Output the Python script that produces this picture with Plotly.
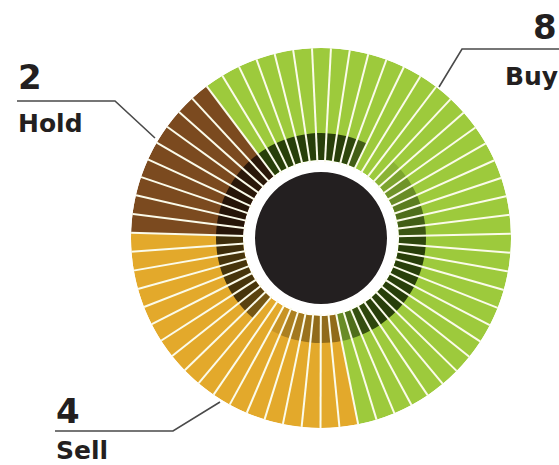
import plotly.graph_objects as go

W, H = 559, 465

# ---- data (clockwise order starting at the Buy/Hold boundary) ----
categories = ["Buy", "Sell", "Hold"]
ratings = [8, 4, 2]
wedges = [36, 18, 9]
base_colors = ["#9dca3c", "#e3a92b", "#7b4a1f"]
dark_colors = ["#1b3005", "#2c2006", "#1c0f06"]

# darkness of the inner band for each wedge (0 = none, 1 = darkest)
buy_shade = [0.9, 0.9, 0.9, 0.9, 0.9, 0.9, 0.9, 0.9, 0.9, 0.85,
             0.7, 0.0, 0.0, 0.0, 0.15, 0.25, 0.35, 0.4, 0.5, 0.6,
             0.7, 0.75, 0.85, 0.9, 0.9, 0.9, 0.9, 0.9, 0.9, 0.9,
             0.9, 0.9, 0.85, 0.8, 0.6, 0.4]
sell_shade = [0.45, 0.45, 0.45, 0.4, 0.35, 0.3, 0.15, 0.0, 0.0, 0.6,
              0.75, 0.85, 0.85, 0.85, 0.85, 0.85, 0.9, 0.9]
hold_shade = [0.9, 0.9, 0.9, 0.9, 0.9, 0.85, 0.85, 0.85, 0.85]
shades = [buy_shade, sell_shade, hold_shade]

start_angle = 323.0
r_hole, r_in, r_band, r_out = 66, 78, 105, 190


def blend(c1, c2, t):
    a = [int(c1[i:i + 2], 16) for i in (1, 3, 5)]
    b = [int(c2[i:i + 2], 16) for i in (1, 3, 5)]
    return "rgb(%d,%d,%d)" % tuple(round(a[k] * (1 - t) + b[k] * t) for k in range(3))


n_total = sum(wedges)
step = 360.0 / n_total
thetas, outer_cols, band_cols = [], [], []
idx = 0
for ci, n in enumerate(wedges):
    for k in range(n):
        thetas.append(start_angle + (idx + 0.5) * step)
        outer_cols.append(base_colors[ci])
        band_cols.append(blend(base_colors[ci], dark_colors[ci], shades[ci][k]))
        idx += 1

fig = go.Figure()
fig.add_trace(go.Barpolar(r=[r_out - r_in] * n_total, base=r_in, theta=thetas,
                          width=[step] * n_total, marker=dict(color=outer_cols, line=dict(width=0)),
                          hoverinfo="skip"))
fig.add_trace(go.Barpolar(r=[r_band - r_in] * n_total, base=r_in, theta=thetas,
                          width=[step] * n_total, marker=dict(color=band_cols, line=dict(width=0)),
                          hoverinfo="skip"))
# separators
sr, st = [], []
for i in range(n_total):
    a = start_angle + i * step
    sr += [r_in - 2, r_out + 2, None]
    st += [a, a, None]
fig.add_trace(go.Scatterpolar(r=sr, theta=st, mode="lines",
                              line=dict(color="#fbfbea", width=2), hoverinfo="skip"))
# central disk
fig.add_trace(go.Barpolar(r=[r_hole], base=0, theta=[0], width=[360],
                          marker=dict(color="#231f20", line=dict(width=0)), hoverinfo="skip"))

cx, cy = 321, 238
fig.update_layout(
    width=W, height=H, margin=dict(l=0, r=0, t=0, b=0),
    paper_bgcolor="white", plot_bgcolor="white", showlegend=False,
    polar=dict(
        domain=dict(x=[(cx - r_out) / W, (cx + r_out) / W],
                    y=[(H - cy - r_out) / H, (H - cy + r_out) / H]),
        bgcolor="rgba(0,0,0,0)",
        radialaxis=dict(range=[0, r_out], visible=False),
        angularaxis=dict(rotation=90, direction="clockwise", visible=False),
    ),
)


def px(x):
    return x / W


def py(y):
    return 1 - y / H


# leader lines (pixel coords)
leaders = [
    [(17, 101), (115, 101), (155, 138)],      # Hold
    [(560, 49), (462, 49), (439, 87)],        # Buy
    [(55, 431), (173, 431), (220, 402)],      # Sell
]
for pts in leaders:
    path = "M " + " L ".join("%f,%f" % (px(x), py(y)) for x, y in pts)
    fig.add_shape(type="path", path=path, xref="paper", yref="paper",
                  line=dict(color="#4a4a4a", width=1.6))

font_num = dict(family="DejaVu Sans", size=34, color="#231f20")
font_lab = dict(family="DejaVu Sans", size=25, color="#231f20")
labels = [
    # text, x, y(center), anchor, font
    ("<b>%d</b>" % ratings[2], 17, 77, "left", font_num),
    ("<b>%s</b>" % categories[2], 17, 124, "left", font_lab),
    ("<b>%d</b>" % ratings[0], 558, 27, "right", font_num),
    ("<b>%s</b>" % categories[0], 559, 76, "right", font_lab),
    ("<b>%d</b>" % ratings[1], 55, 411, "left", font_num),
    ("<b>%s</b>" % categories[1], 55, 450, "left", font_lab),
]
for t, x, y, anc, f in labels:
    fig.add_annotation(text=t, x=px(x), y=py(y), xref="paper", yref="paper",
                       xanchor=anc, yanchor="middle", showarrow=False, font=f, borderpad=0)

fig.write_html("out.html", config={"displayModeBar": False},
               post_script="document.body.style.margin='0';document.body.style.overflow='hidden';")
